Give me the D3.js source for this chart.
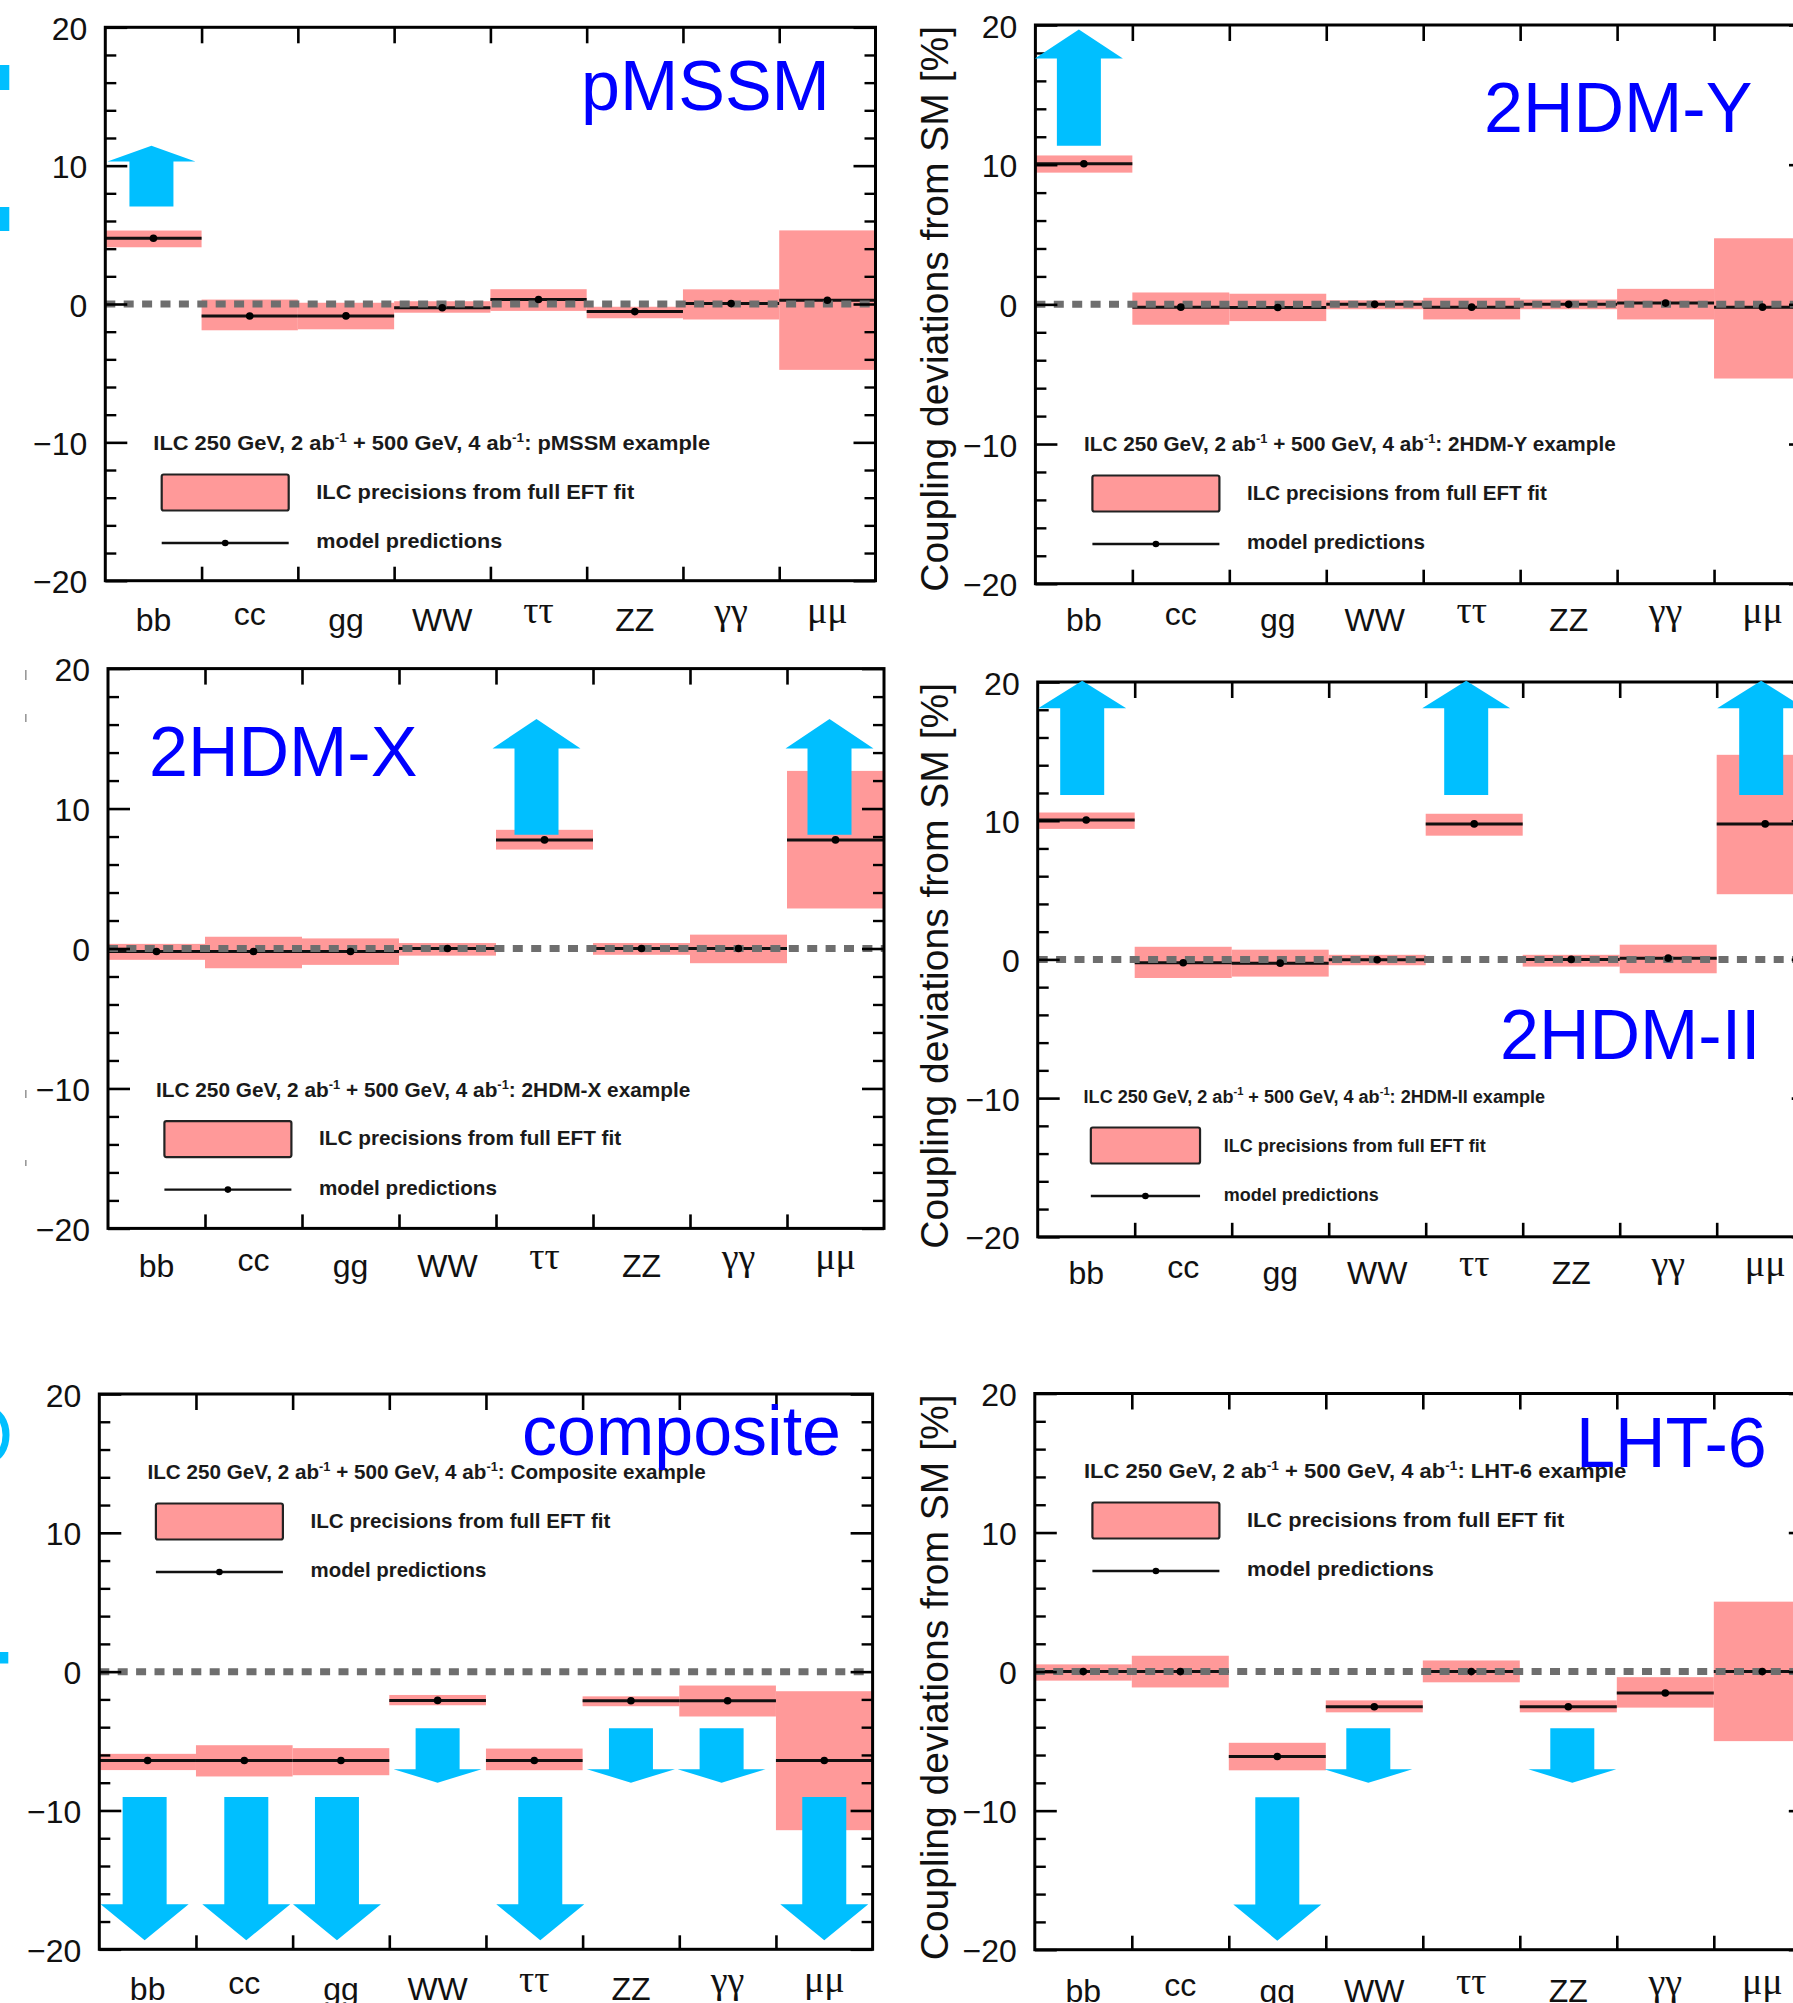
<!DOCTYPE html>
<html>
<head>
<meta charset="utf-8">
<script src="https://cdn.jsdelivr.net/npm/d3@7"></script>
<style>
  html, body { margin: 0; padding: 0; background: #ffffff; }
  svg { display: block; }
</style>
</head>
<body>
<svg id="fig" width="1793" height="2003"></svg>
<script>
// ---- shared axis content ----
const categories = ["bb", "cc", "gg", "WW", "ττ", "ZZ", "γγ", "μμ"];
const majorTicks = [-20, -10, 0, 10, 20];
const minorTicks = [-18, -16, -14, -12, -8, -6, -4, -2, 2, 4, 6, 8, 12, 14, 16, 18];
const yDomain = [-20, 20];
const yTitleText = "Coupling deviations from SM [%]";
const legendBandText = "ILC precisions from full EFT fit";
const legendLineText = "model predictions";

// ---- pMSSM ----
const pmssmPred = [4.75, -0.87, -0.86, -0.27, 0.33, -0.55, 0.03, 0.27];
const pmssmLow  = [4.10, -1.90, -1.83, -0.63, -0.50, -1.03, -1.12, -4.76];
const pmssmHigh = [5.31, 0.32, 0.09, 0.20, 1.07, -0.20, 1.06, 5.32];
const pmssmArrows = [["bb", "up", "long"]];

// ---- 2HDM-Y ----
const hdmYPred = [10.07, -0.20, -0.23, 0.00, -0.20, 0.00, 0.09, -0.20];
const hdmYLow  = [9.43, -1.46, -1.20, -0.35, -1.08, -0.35, -1.08, -5.31];
const hdmYHigh = [10.66, 0.85, 0.76, 0.29, 0.47, 0.35, 1.11, 4.73];
const hdmYArrows = [["bb", "up", "long"]];

// ---- 2HDM-X ----
const hdmXPred = [-0.21, -0.21, -0.21, 0.00, 7.76, 0.00, 0.00, 7.76];
const hdmXLow  = [-0.81, -1.41, -1.17, -0.51, 7.07, -0.45, -1.05, 2.86];
const hdmXHigh = [0.33, 0.84, 0.72, 0.39, 8.48, 0.39, 0.99, 12.69];
const hdmXArrows = [["ττ", "up", "long"], ["μμ", "up", "long"]];

// ---- 2HDM-II ----
const hdmIIPred = [10.05, -0.24, -0.27, -0.03, 9.77, 0.00, 0.09, 9.77];
const hdmIILow  = [9.41, -1.34, -1.24, -0.42, 8.92, -0.52, -1.00, 4.70];
const hdmIIHigh = [10.59, 0.91, 0.70, 0.33, 10.50, 0.33, 1.06, 14.75];
const hdmIIArrows = [["bb", "up", "long"], ["ττ", "up", "long"], ["μμ", "up", "long"]];

// ---- composite Higgs ----
const compPred = [-6.40, -6.40, -6.40, -2.07, -6.40, -2.10, -2.10, -6.40];
const compLow  = [-7.09, -7.55, -7.46, -2.42, -7.10, -2.49, -3.23, -11.42];
const compHigh = [-5.92, -5.30, -5.51, -1.68, -5.54, -1.78, -1.00, -1.41];
const compArrows = [["bb", "down", "long"], ["cc", "down", "long"], ["gg", "down", "long"],
                    ["WW", "down", "short"], ["ττ", "down", "long"], ["ZZ", "down", "short"],
                    ["γγ", "down", "short"], ["μμ", "down", "long"]];

// ---- LHT-6 ----
const lhtPred = [0.00, 0.00, -6.11, -2.53, 0.00, -2.53, -1.54, 0.00];
const lhtLow  = [-0.65, -1.14, -7.10, -2.93, -0.77, -2.93, -2.59, -5.00];
const lhtHigh = [0.52, 1.14, -5.12, -2.07, 0.80, -2.07, -0.40, 5.03];
const lhtArrows = [["gg", "down", "long"], ["WW", "down", "short"], ["ZZ", "down", "short"]];

// ---- styling ----
const SANS = "'Liberation Sans', Arial, Helvetica, sans-serif";
const SERIF = "'Liberation Serif', 'DejaVu Serif', 'Times New Roman', serif";
const PINK = "#ff9999";
const CYAN = "#00bfff";
const TITLE_BLUE = "#0000ff";
const ZERO_GREY = "#6e6e6e";

// Panel placement; arrow spans are [tail, head base, tip] in axis units.
const panels = [
  { tag: "pMSSM", title: "pMSSM", pred: pmssmPred, low: pmssmLow, high: pmssmHigh, arrows: pmssmArrows,
    frame: [105.3, 875.5, 27.3, 580.7], labelGap: 50, yTitle: false, titleAt: [581, 110],
    legend: { x: 153.3, y: 450, s: 1, fs: 20, hw: 557, w1: 318, w2: 186 },
    spans: { long: [7.05, 10.3, 11.44] }, nudge: { bb: -2 } },
  { tag: "2HDM-Y", title: "2HDM-Y", pred: hdmYPred, low: hdmYLow, high: hdmYHigh, arrows: hdmYArrows,
    frame: [1035.4, 1811, 25, 583.7], labelGap: 47, yTitle: true, titleAt: [1484, 131.7],
    legend: { x: 1084, y: 451, s: 1, fs: 20, hw: 532, w1: 300, w2: 178 },
    spans: { long: [11.36, 17.6, 19.68] }, nudge: { bb: -5 } },
  { tag: "2HDM-X", title: "2HDM-X", pred: hdmXPred, low: hdmXLow, high: hdmXHigh, arrows: hdmXArrows,
    frame: [108, 884, 668.6, 1228.4], labelGap: 49, yTitle: false, titleAt: [149, 775.5],
    legend: { x: 156, y: 1096.6, s: 1, fs: 20, hw: 534.5, w1: 302.5, w2: 178 },
    spans: { long: [8.12, 14.29, 16.4] }, nudge: { "ττ": -8, "μμ": -6 } },
  { tag: "2HDM-II", title: "2HDM-II", pred: hdmIIPred, low: hdmIILow, high: hdmIIHigh, arrows: hdmIIArrows,
    frame: [1037.7, 1813.7, 682, 1236.8], labelGap: 47, yTitle: true, titleAt: [1500, 1059],
    legend: { x: 1083.6, y: 1103, s: 0.86, fs: 17.5, hw: 462, w1: 262, w2: 155 },
    spans: { long: [11.86, 18.1, 20.09] }, nudge: { bb: -4, "ττ": -8, "μμ": -4 } },
  { tag: "Composite", title: "composite", pred: compPred, low: compLow, high: compHigh, arrows: compArrows,
    frame: [99.3, 872.6, 1394, 1949.3], labelGap: 51, yTitle: false, titleAt: [522, 1455.3],
    legend: { x: 147.5, y: 1479, s: 1, fs: 20, hw: 558.5, w1: 300, w2: 176 },
    spans: { long: [-9.03, -16.75, -19.35], short: [-4.08, -7.03, -8.0] },
    nudge: { bb: -3, cc: 2, gg: -4, "ττ": 6, "γγ": -6 } },
  { tag: "LHT-6", title: "LHT-6", pred: lhtPred, low: lhtLow, high: lhtHigh, arrows: lhtArrows,
    frame: [1034.8, 1810.8, 1393.5, 1949.7], labelGap: 52, yTitle: true, titleAt: [1576, 1466.5],
    legend: { x: 1084, y: 1478, s: 1, fs: 20, hw: 542.6, w1: 317.6, w2: 187 },
    spans: { long: [-9.03, -16.75, -19.35], short: [-4.08, -7.03, -8.0] },
    nudge: { WW: -6, ZZ: 4 } }
];

const svg = d3.select("#fig");

// text squeezed/stretched horizontally to a given advance width
function fittedText(parent, x, y, width, build) {
  const g = parent.append("g").attr("transform", `translate(${x},${y})`);
  const t = g.append("text").attr("x", 0).attr("y", 0);
  build(t);
  const w = t.node().getComputedTextLength();
  if (w > 0) t.attr("transform", `scale(${width / w},1)`);
  return t;
}

function cleanAxis(sel, width) {
  sel.select(".domain").remove();
  sel.selectAll(".tick line").attr("stroke", "#000").attr("stroke-width", width);
}

// per-label typography of the channel names
const labelLook = {
  bb: { font: SANS, size: 32, lift: 0 },
  cc: { font: SANS, size: 32, lift: 6 },
  gg: { font: SANS, size: 32, lift: 0 },
  WW: { font: SANS, size: 32, lift: 0 },
  "ττ": { font: SERIF, size: 38, lift: 8 },
  ZZ: { font: SANS, size: 32, lift: 0 },
  "γγ": { font: SERIF, size: 38, lift: 7 },
  "μμ": { font: SERIF, size: 38, lift: 8 }
};

function drawPanel(p) {
  const [x0, x1, y0, y1] = p.frame;
  const g = svg.append("g").attr("class", "panel");

  const x = d3.scaleBand().domain(categories).range([x0, x1]).paddingInner(0).paddingOuter(0);
  const xEdge = d3.scaleLinear().domain([0, categories.length]).range([x0, x1]);
  const y = d3.scaleLinear().domain(yDomain).range([y1, y0]);

  const rows = categories.map((c, i) => ({ c, pred: p.pred[i], lo: p.low[i], hi: p.high[i] }));

  // fit precision bands
  g.append("g").selectAll("rect").data(rows).join("rect")
    .attr("x", d => x(d.c)).attr("width", x.bandwidth())
    .attr("y", d => y(d.hi)).attr("height", d => y(d.lo) - y(d.hi))
    .attr("fill", PINK);

  // model prediction segments
  g.append("g").selectAll("line").data(rows).join("line")
    .attr("x1", d => x(d.c)).attr("x2", d => x(d.c) + x.bandwidth())
    .attr("y1", d => y(d.pred)).attr("y2", d => y(d.pred))
    .attr("stroke", "#111").attr("stroke-width", 3);

  // Standard Model reference
  g.append("line")
    .attr("x1", x0).attr("x2", x1).attr("y1", y(0)).attr("y2", y(0))
    .attr("stroke", ZERO_GREY).attr("stroke-width", 7).attr("stroke-dasharray", "10 8.4");

  // prediction markers
  g.append("g").selectAll("circle").data(rows).join("circle")
    .attr("cx", d => x(d.c) + x.bandwidth() / 2).attr("cy", d => y(d.pred))
    .attr("r", 3.8).attr("fill", "#000");

  // axes: ticks point into the frame
  const left = g.append("g").attr("transform", `translate(${x0},0)`)
    .call(d3.axisLeft(y).tickValues(majorTicks).tickSize(-22).tickPadding(18));
  cleanAxis(left, 2.6);
  left.selectAll(".tick text").attr("font-family", SANS).attr("font-size", 32)
    .attr("fill", "#111").attr("dy", "0.38em");
  cleanAxis(g.append("g").attr("transform", `translate(${x0},0)`)
    .call(d3.axisLeft(y).tickValues(minorTicks).tickSize(-11).tickFormat("")), 2.4);
  cleanAxis(g.append("g").attr("transform", `translate(${x1},0)`)
    .call(d3.axisRight(y).tickValues(majorTicks).tickSize(-22).tickFormat("")), 2.6);
  cleanAxis(g.append("g").attr("transform", `translate(${x1},0)`)
    .call(d3.axisRight(y).tickValues(minorTicks).tickSize(-11).tickFormat("")), 2.4);
  const inner = d3.range(1, categories.length);
  cleanAxis(g.append("g").attr("transform", `translate(0,${y0})`)
    .call(d3.axisTop(xEdge).tickValues(inner).tickSize(-16).tickFormat("")), 2.6);
  cleanAxis(g.append("g").attr("transform", `translate(0,${y1})`)
    .call(d3.axisBottom(xEdge).tickValues(inner).tickSize(-14).tickFormat("")), 2.6);

  // frame
  g.append("rect").attr("x", x0).attr("y", y0).attr("width", x1 - x0).attr("height", y1 - y0)
    .attr("fill", "none").attr("stroke", "#000").attr("stroke-width", 3);

  // category labels
  g.append("g").selectAll("text").data(categories).join("text")
    .attr("x", c => x(c) + x.bandwidth() / 2)
    .attr("y", c => y1 + p.labelGap - labelLook[c].lift)
    .attr("text-anchor", "middle")
    .attr("font-family", c => labelLook[c].font)
    .attr("font-size", c => labelLook[c].size)
    .attr("fill", "#111")
    .text(c => c);

  // y-axis title
  if (p.yTitle) {
    g.append("text")
      .attr("transform", `translate(948,${y0 + 1}) rotate(-90)`)
      .attr("text-anchor", "end").attr("font-family", SANS).attr("font-size", 39)
      .attr("fill", "#111").text(yTitleText);
  }

  // legend
  const L = p.legend;
  const lg = g.append("g").attr("font-family", SANS).attr("font-weight", "bold")
    .attr("font-size", L.fs).attr("fill", "#1a1a1a");
  fittedText(lg, L.x, L.y, L.hw, t => {
    t.append("tspan").text("ILC 250 GeV, 2 ab");
    t.append("tspan").attr("dy", -8).attr("font-size", L.fs * 0.62).text("-1");
    t.append("tspan").attr("dy", 8).text(" + 500 GeV, 4 ab");
    t.append("tspan").attr("dy", -8).attr("font-size", L.fs * 0.62).text("-1");
    t.append("tspan").attr("dy", 8).text(`: ${p.tag} example`);
  });
  const bx = L.x + 8.4 * L.s, bw = 127 * L.s;
  lg.append("rect").attr("x", bx).attr("y", L.y + 24.5).attr("width", bw).attr("height", 36)
    .attr("rx", 2).attr("fill", PINK).attr("stroke", "#222").attr("stroke-width", 2.2);
  lg.append("line").attr("x1", bx).attr("x2", bx + bw).attr("y1", L.y + 93).attr("y2", L.y + 93)
    .attr("stroke", "#111").attr("stroke-width", 2.4);
  lg.append("circle").attr("cx", bx + bw / 2).attr("cy", L.y + 93).attr("r", 3.3).attr("fill", "#000");
  fittedText(lg, L.x + 163 * L.s, L.y + 48.5, L.w1, t => t.text(legendBandText));
  fittedText(lg, L.x + 163 * L.s, L.y + 98, L.w2, t => t.text(legendLineText));

  // model name
  g.append("text").attr("x", p.titleAt[0]).attr("y", p.titleAt[1])
    .attr("font-family", SANS).attr("font-size", 70).attr("fill", TITLE_BLUE).text(p.title);

  // direction arrows
  const ag = g.append("g");
  p.arrows.forEach(([c, dir, kind]) => {
    const [tail, base, tip] = p.spans[kind];
    const cx = x(c) + x.bandwidth() / 2 + (p.nudge[c] || 0);
    const hw = 44, sw = 22;
    const pts = [
      [cx - sw, y(tail)], [cx - sw, y(base)], [cx - hw, y(base)], [cx, y(tip)],
      [cx + hw, y(base)], [cx + sw, y(base)], [cx + sw, y(tail)]
    ];
    ag.append("path").attr("d", d3.line()(pts) + "Z").attr("fill", CYAN);
  });
}

panels.forEach(drawPanel);

// remnants of neighbouring figures along the left edge
const edge = svg.append("g");
edge.append("rect").attr("x", 0).attr("y", 65).attr("width", 9.3).attr("height", 25).attr("fill", CYAN);
edge.append("rect").attr("x", 0).attr("y", 207).attr("width", 9.3).attr("height", 24).attr("fill", CYAN);
edge.append("ellipse").attr("cx", -10).attr("cy", 1435).attr("rx", 16).attr("ry", 24)
  .attr("fill", "none").attr("stroke", CYAN).attr("stroke-width", 7);
edge.append("rect").attr("x", 0).attr("y", 1652).attr("width", 8.3).attr("height", 11.5).attr("fill", CYAN);
[[670, 10], [714, 8], [1090, 8], [1160, 6]].forEach(([yy, h]) => {
  edge.append("rect").attr("x", 25).attr("y", yy).attr("width", 1.6).attr("height", h).attr("fill", "#999");
});
</script>
</body>
</html>
